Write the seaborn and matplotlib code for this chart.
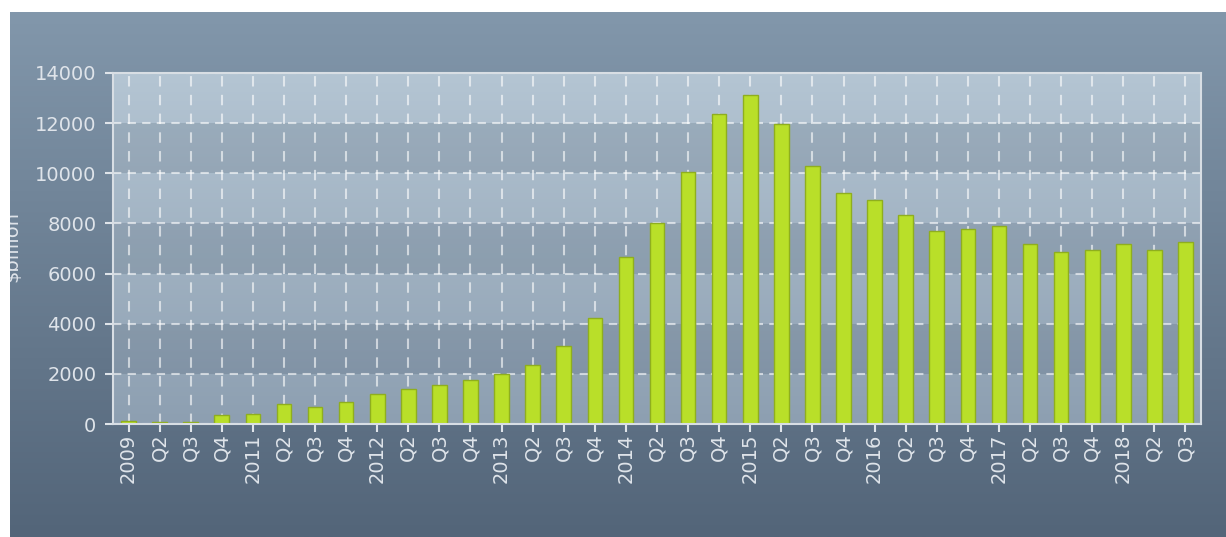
import numpy as np
import pandas as pd
import matplotlib
matplotlib.use("Agg")
import matplotlib.pyplot as plt
from matplotlib.colors import LinearSegmentedColormap
from matplotlib.patches import Rectangle
import seaborn as sns

# data ($billion per quarter)
periods = ["2009Q1", "2009Q2", "2009Q3", "2009Q4",
           "2011Q1", "2011Q2", "2011Q3", "2011Q4",
           "2012Q1", "2012Q2", "2012Q3", "2012Q4",
           "2013Q1", "2013Q2", "2013Q3", "2013Q4",
           "2014Q1", "2014Q2", "2014Q3", "2014Q4",
           "2015Q1", "2015Q2", "2015Q3", "2015Q4",
           "2016Q1", "2016Q2", "2016Q3", "2016Q4",
           "2017Q1", "2017Q2", "2017Q3", "2017Q4",
           "2018Q1", "2018Q2", "2018Q3"]
tick_labels = ["2009", "Q2", "Q3", "Q4",
               "2011", "Q2", "Q3", "Q4",
               "2012", "Q2", "Q3", "Q4",
               "2013", "Q2", "Q3", "Q4",
               "2014", "Q2", "Q3", "Q4",
               "2015", "Q2", "Q3", "Q4",
               "2016", "Q2", "Q3", "Q4",
               "2017", "Q2", "Q3", "Q4",
               "2018", "Q2", "Q3"]
values = [100, 90, 90, 360,
          380, 790, 660, 880,
          1200, 1400, 1540, 1770,
          2000, 2370, 3110, 4230,
          6670, 8030, 10050, 12350,
          13110, 11950, 10290, 9210,
          8930, 8340, 7700, 7770,
          7910, 7180, 6850, 6930,
          7180, 6940, 7260]
y_ticks = [0, 2000, 4000, 6000, 8000, 10000, 12000, 14000]

df = pd.DataFrame({"period": periods, "value": values})

sns.set_style("ticks")
plt.rcParams["font.family"] = ["DejaVu Sans"]

W, H = 1226, 537
fig = plt.figure(figsize=(W / 100, H / 100), dpi=100, facecolor="white")

# panel background gradient
bg = fig.add_axes([10 / W, 0, 1 - 10 / W, 1 - 12 / H], zorder=-1)
panel_cmap = LinearSegmentedColormap.from_list("panel", ["#8297ab", "#536579"])
bg.imshow(np.linspace(0, 1, 256).reshape(-1, 1), cmap=panel_cmap,
          aspect="auto", extent=(0, 1, 0, 1), origin="upper")
bg.set_axis_off()

ax = fig.add_axes([113 / W, 1 - 424 / H, (1201 - 113) / W, (424 - 73) / H], zorder=1)
n = len(periods)

# plot-area gradient with alternating bands
plot_cmap = LinearSegmentedColormap.from_list("plotbg", ["#b4c5d3", "#8d9fb1"])
ax.imshow(np.linspace(0, 1, 256).reshape(-1, 1), cmap=plot_cmap, aspect="auto",
          extent=(-0.5, n - 0.5, 0, 14000), origin="upper", zorder=0)
for lo in range(2000, 14000, 4000):
    ax.axhspan(lo, lo + 2000, color="#1f3247", alpha=0.14, lw=0, zorder=0.2)

sns.barplot(data=df, x="period", y="value", order=periods, color="#b9df29",
            saturation=1, width=0.47, edgecolor="#8fae1e", linewidth=1, ax=ax,
            zorder=2)

ax.set_xlim(-0.5, n - 0.5)
ax.set_ylim(0, 14000)
ax.set_yticks(y_ticks)
ax.set_yticklabels([str(v) for v in y_ticks])
ax.set_xticks(range(n))
ax.set_xticklabels(tick_labels, rotation=90, va="top", ha="center")
ax.set_xlabel("")
ax.set_ylabel("")

txt = "#dfe4ea"
ax.tick_params(axis="y", colors=txt, labelsize=14, length=6, width=1.5, pad=6,
               direction="out")
ax.tick_params(axis="x", colors=txt, labelsize=14, length=6, width=1.5, pad=1,
               direction="out")
for s in ax.spines.values():
    s.set_visible(True)
    s.set_color("#d8dee4")
    s.set_linewidth(1.5)
    s.set_zorder(3)

ax.set_axisbelow(True)
ax.grid(axis="y", color="white", alpha=0.6, linestyle=(0, (4, 3)), linewidth=1.5)
ax.grid(axis="x", color="white", alpha=0.6, linestyle=(0, (5, 4)), linewidth=1.5)

fig.text(12 / W, 1 - 246 / H, "\\$billion", rotation=90, ha="center", va="center",
         color=txt, fontsize=14)
# white margin strips over the panel edges
fig.patches.append(Rectangle((0, 0), 10 / W, 1, transform=fig.transFigure,
                             facecolor="white", edgecolor="none", zorder=10))
fig.patches.append(Rectangle((0, 1 - 12 / H), 1, 12 / H, transform=fig.transFigure,
                             facecolor="white", edgecolor="none", zorder=10))

fig.savefig("out.png", dpi=100, facecolor="white")
